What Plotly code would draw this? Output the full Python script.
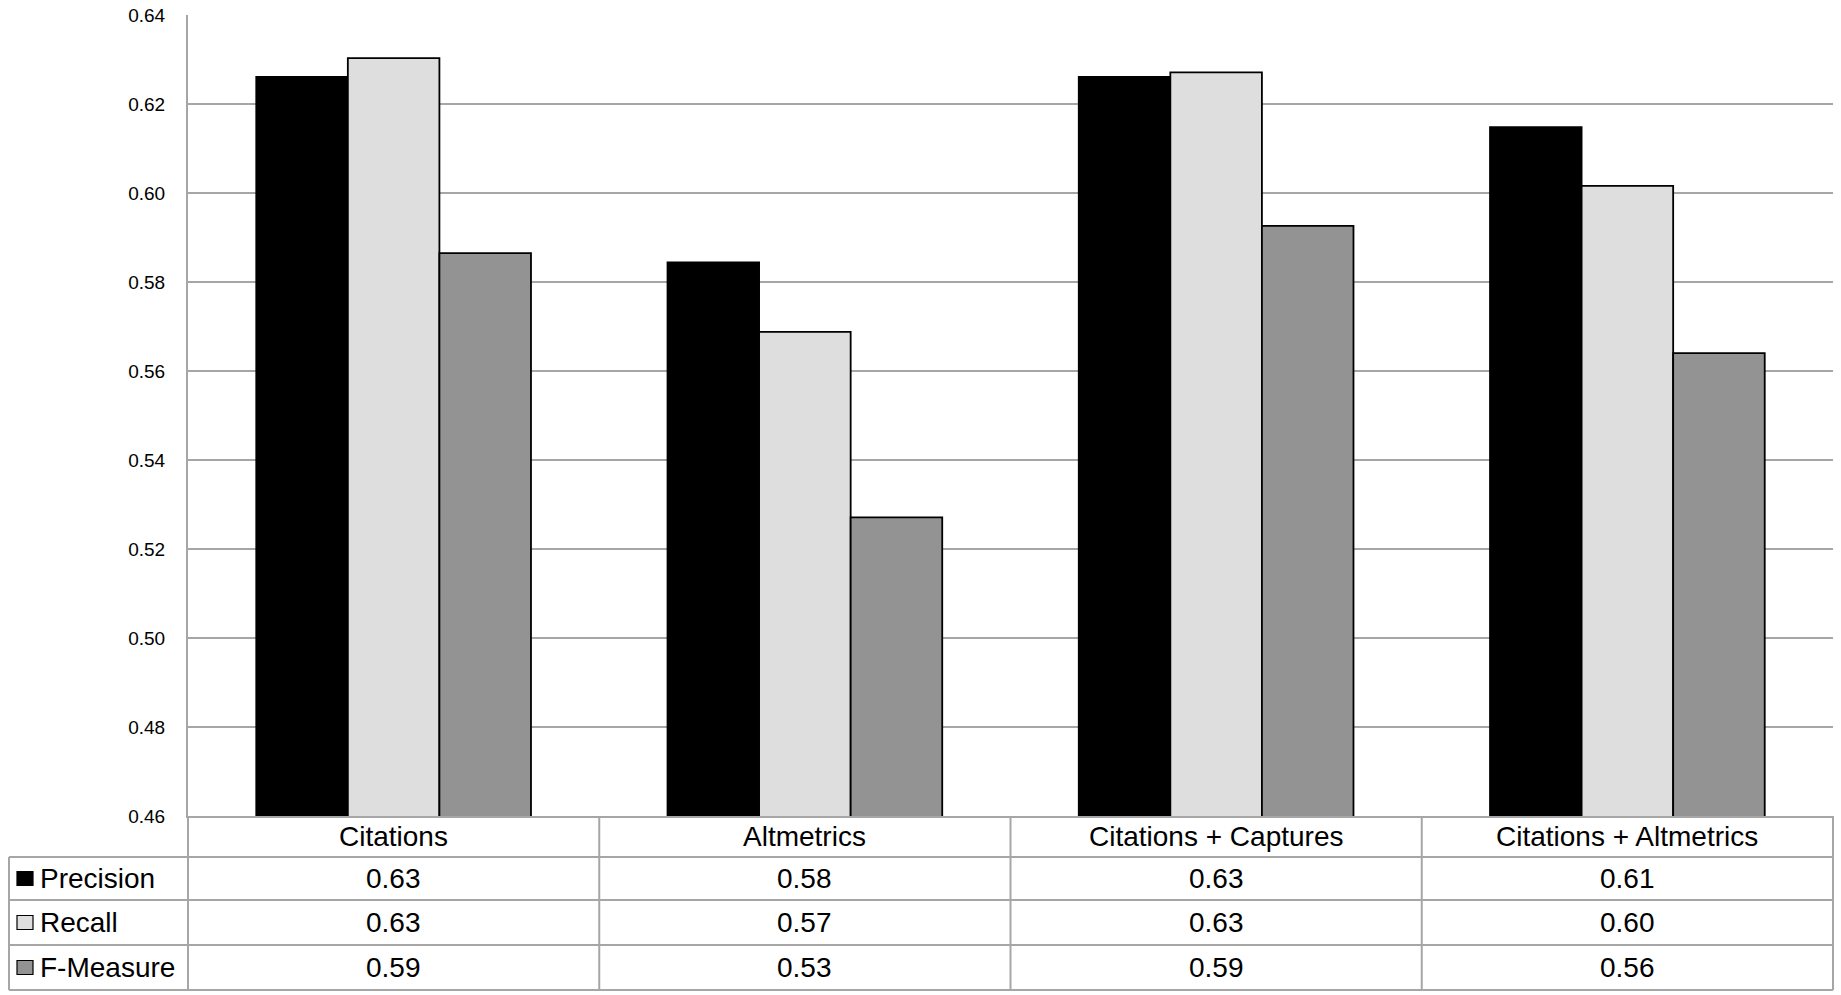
import plotly.graph_objects as go

# ---------------- data ----------------
categories = ["Citations", "Altmetrics", "Citations + Captures", "Citations + Altmetrics"]
series_names = ["Precision", "Recall", "F-Measure"]
precision = [0.6261, 0.5844, 0.6261, 0.6148]
recall = [0.6303, 0.5688, 0.6271, 0.6016]
f_measure = [0.5865, 0.5271, 0.5926, 0.5640]
y_ticks = [0.46, 0.48, 0.50, 0.52, 0.54, 0.56, 0.58, 0.60, 0.62, 0.64]

series_values = [precision, recall, f_measure]
series_colors = ["#000000", "#dedede", "#939393"]

# ---------------- geometry (pixels) ----------------
W, H = 1841, 995
ML, MR, MT, MB = 188, 8, 15, 179
PL, PR = ML, W - MR
PT, PB = MT, H - MB
GRID = "#a6a6a6"
FONT = "Liberation Sans, Arial, sans-serif"
TFS = 28

def px_x(x):
    return (x - PL) / (PR - PL)

def px_y(y):
    return (PB - y) / (PB - PT)

# table row boundaries (px)
row_edges = [PB, 857, 900, 945, 990]
table_left = 9
row_centers = [(row_edges[i] + row_edges[i + 1]) / 2 for i in range(len(row_edges) - 1)]

fig = go.Figure()
for name, vals, col in zip(series_names, series_values, series_colors):
    fig.add_trace(go.Bar(
        x=categories, y=vals, name=name,
        marker=dict(color=col, line=dict(color="#000000", width=1.8)),
        showlegend=False,
    ))

shapes = []
# horizontal table lines
for y in row_edges[1:]:
    shapes.append(dict(type="line", xref="paper", yref="paper",
                       x0=px_x(table_left), x1=1, y0=px_y(y), y1=px_y(y),
                       line=dict(color=GRID, width=2)))
# left border of legend column
shapes.append(dict(type="line", xref="paper", yref="paper",
                   x0=px_x(table_left), x1=px_x(table_left),
                   y0=px_y(row_edges[1]), y1=px_y(row_edges[-1]),
                   line=dict(color=GRID, width=2)))
# column dividers at category boundaries (incl. axis line continuation)
n = len(categories)
for i in range(n + 1):
    xf = i / n
    shapes.append(dict(type="line", xref="x domain", yref="paper",
                       x0=xf, x1=xf, y0=0, y1=px_y(row_edges[-1]),
                       line=dict(color=GRID, width=2)))

annotations = []
# header row
for cat in categories:
    annotations.append(dict(x=cat, xref="x", y=px_y(row_centers[0]), yref="paper",
                            text=cat, showarrow=False, xanchor="center", yanchor="middle",
                            font=dict(family=FONT, size=TFS, color="#000000")))
# value rows + legend column
for r, (name, vals, col) in enumerate(zip(series_names, series_values, series_colors)):
    yc = row_centers[r + 1]
    for cat, v in zip(categories, vals):
        annotations.append(dict(x=cat, xref="x", y=px_y(yc), yref="paper",
                                text=f"{v:.2f}", showarrow=False, xanchor="center", yanchor="middle",
                                font=dict(family=FONT, size=TFS, color="#000000")))
    annotations.append(dict(x=px_x(38), xref="paper", y=px_y(yc), yref="paper",
                            text=name, showarrow=False, xanchor="left", yanchor="middle",
                            font=dict(family=FONT, size=TFS, color="#000000")))
    shapes.append(dict(type="rect", xref="paper", yref="paper",
                       x0=px_x(17), x1=px_x(33), y0=px_y(yc + 7), y1=px_y(yc - 7),
                       fillcolor=col, line=dict(color="#000000", width=1.2)))

fig.update_layout(
    width=W, height=H,
    margin=dict(l=ML, r=MR, t=MT, b=MB, autoexpand=False),
    paper_bgcolor="white", plot_bgcolor="white",
    barmode="group", bargap=0.332, bargroupgap=0,
    font=dict(family=FONT, color="#000000"),
    shapes=shapes, annotations=annotations,
    xaxis=dict(showticklabels=False, showgrid=False, showline=True,
               linecolor=GRID, linewidth=2, ticks="", zeroline=False),
    yaxis=dict(range=[0.46, 0.64], tickvals=y_ticks, tickformat=".2f",
               showgrid=True, gridcolor=GRID, gridwidth=2,
               showline=True, linecolor=GRID, linewidth=2,
               ticks="", zeroline=False, ticklabelstandoff=17,
               tickfont=dict(family=FONT, size=19, color="#000000")),
)

fig.write_html(
    "out.html",
    config={"displayModeBar": False},
    post_script="document.body.style.margin='0';document.body.style.overflow='hidden';",
)
